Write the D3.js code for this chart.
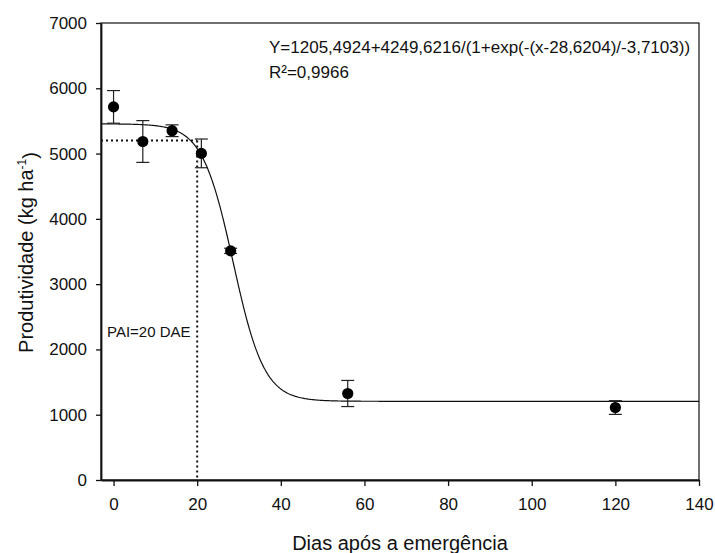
<!DOCTYPE html>
<html>
<head>
<meta charset="utf-8">
<script src="https://cdn.jsdelivr.net/npm/d3@7"></script>
<style>
  html, body { margin: 0; padding: 0; background: #fff; }
  svg { display: block; font-family: "Liberation Sans", Arial, sans-serif; }
</style>
</head>
<body>
<svg id="chart" width="715" height="553"></svg>
<script>
// Observed yield by days after emergence
const days = [0, 7, 14, 21, 28, 56, 120];
const yieldMean = [5715, 5185, 5350, 5003, 3510, 1325, 1110];
const yieldErr = [250, 320, 90, 220, 40, 200, 105];

// Sigmoid fit: Y = a + b / (1 + exp(-(x - x0) / k))
const fitParams = [1205.4924, 4249.6216, 28.6204, -3.7103];

// Critical period marker (PAI) and its yield level
const paiDay = [20];
const paiYield = [5200];

const xTicks = [0, 20, 40, 60, 80, 100, 120, 140];
const yTicks = [0, 1000, 2000, 3000, 4000, 5000, 6000, 7000];

(function draw() {
  const svg = d3.select("#chart");
  const pLeft = 101, pRight = 699, pTop = 23, pBottom = 480;

  const x = d3.scaleLinear().domain([-3, 140]).range([pLeft, pRight]);
  const y = d3.scaleLinear().domain([0, 7000]).range([pBottom, pTop]);

  // frame
  svg.append("rect")
    .attr("x", pLeft).attr("y", pTop)
    .attr("width", pRight - pLeft).attr("height", pBottom - pTop)
    .attr("fill", "none").attr("stroke", "#111").attr("stroke-width", 1.2);

  // axes
  const xAxis = svg.append("g")
    .attr("transform", `translate(0,${pBottom})`)
    .call(d3.axisBottom(x).tickValues(xTicks).tickFormat(d3.format("d"))
      .tickSize(6).tickPadding(12).tickSizeOuter(0));
  const yAxis = svg.append("g")
    .attr("transform", `translate(${pLeft},0)`)
    .call(d3.axisLeft(y).tickValues(yTicks).tickFormat(d3.format("d"))
      .tickSize(5).tickPadding(9).tickSizeOuter(0));

  [xAxis, yAxis].forEach(g => {
    g.select(".domain").attr("stroke", "#111").attr("stroke-width", 1.8);
    g.selectAll(".tick line").attr("stroke", "#111").attr("stroke-width", 1.3);
    g.selectAll(".tick text")
      .attr("fill", "#111")
      .style("font-size", "17px")
      .style("font-family", '"Liberation Sans", Arial, sans-serif');
  });

  // axis titles
  svg.append("text")
    .attr("x", (pLeft + pRight) / 2).attr("y", 550)
    .attr("text-anchor", "middle")
    .style("font-size", "20px").attr("fill", "#111")
    .text("Dias após a emergência");

  const yTitle = svg.append("text")
    .attr("transform", `translate(33,${(pTop + pBottom) / 2 + 1}) rotate(-90)`)
    .attr("text-anchor", "middle")
    .style("font-size", "20px").attr("fill", "#111");
  yTitle.append("tspan").text("Produtividade (kg ha");
  yTitle.append("tspan").attr("dy", "-0.55em").style("font-size", "12px").text("-1");
  yTitle.append("tspan").attr("dy", "0.55em").text(")");

  // dotted PAI guide lines
  const dotted = { stroke: "#111", "stroke-width": 2, "stroke-dasharray": "2,3", fill: "none" };
  const hLine = svg.append("line")
    .attr("x1", x(-3)).attr("x2", x(paiDay[0]))
    .attr("y1", y(paiYield[0])).attr("y2", y(paiYield[0]));
  const vLine = svg.append("line")
    .attr("x1", x(paiDay[0])).attr("x2", x(paiDay[0]))
    .attr("y1", y(paiYield[0])).attr("y2", y(0));
  [hLine, vLine].forEach(l => Object.entries(dotted).forEach(([k, v]) => l.attr(k, v)));

  // fitted curve
  const [a, b, x0, k] = fitParams;
  const fit = xv => a + b / (1 + Math.exp(-(xv - x0) / k));
  const curveX = d3.range(-3, 140.01, 0.25);
  svg.append("path")
    .datum(curveX)
    .attr("d", d3.line().x(d => x(d)).y(d => y(fit(d))))
    .attr("fill", "none").attr("stroke", "#111").attr("stroke-width", 1.2);

  // error bars
  const pts = days.map((d, i) => ({ d, m: yieldMean[i], e: yieldErr[i] }));
  const eb = svg.append("g").attr("stroke", "#222").attr("stroke-width", 1.2);
  pts.forEach(p => {
    eb.append("line").attr("x1", x(p.d)).attr("x2", x(p.d))
      .attr("y1", y(p.m - p.e)).attr("y2", y(p.m + p.e));
    [p.m - p.e, p.m + p.e].forEach(v => {
      eb.append("line").attr("x1", x(p.d) - 6.5).attr("x2", x(p.d) + 6.5)
        .attr("y1", y(v)).attr("y2", y(v));
    });
  });

  // means
  svg.append("g").selectAll("circle")
    .data(pts).join("circle")
    .attr("cx", p => x(p.d)).attr("cy", p => y(p.m))
    .attr("r", 5.6).attr("fill", "#000");

  // annotations
  svg.append("text").attr("x", 269).attr("y", 53)
    .style("font-size", "17px").attr("fill", "#111")
    .text("Y=1205,4924+4249,6216/(1+exp(-(x-28,6204)/-3,7103))");
  svg.append("text").attr("x", 269).attr("y", 77.5)
    .style("font-size", "17px").attr("fill", "#111")
    .text("R²=0,9966");

  svg.append("text").attr("x", 107).attr("y", 337)
    .style("font-size", "15px").attr("fill", "#111")
    .text("PAI=20 DAE");
})();
</script>
</body>
</html>
